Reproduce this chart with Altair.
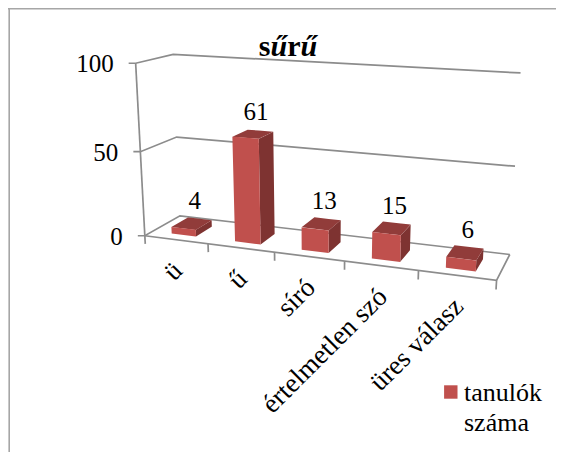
import altair as alt
import numpy as np
import pandas as pd

categories = ["ü", "ű", "síró", "értelmetlen szó", "üres válasz"]
values = [4, 61, 13, 15, 6]
axis_ticks = [0, 50, 100]
legend_lines = ["tanulók", "száma"]
title_letters = ["s", "ű", "r", "ű"]
title_widths = [0.389, 0.556, 0.444, 0.556]

FRONT, SIDE, TOP = "#c0504d", "#7e3331", "#913c3a"
GRID = "#8c8c8c"
FRAME = "#a6a6a6"
FONT = "Liberation Serif"

# perspective camera of the 3D box: (category share, depth, value share) -> picture
anchors = [
    ((0, 0, 0), (145.7, 235.7)), ((0, 0, .5), (139, 152)), ((0, 0, 1), (136, 63.3)),
    ((0, 1, 0), (179.9, 215.7)), ((0, 1, .5), (176.3, 137)), ((0, 1, 1), (173.7, 54.3)),
    ((1, 1, 0), (509.7, 255)), ((1, 1, .5), (515, 166)), ((1, 1, 1), (520.5, 73)),
    ((1, 0, 0), (496.7, 280)),
]
A = []
for (u, d, v), (px, py) in anchors:
    A.append([u, d, v, 1, 0, 0, 0, 0, -px*u, -px*d, -px*v, -px])
    A.append([0, 0, 0, 0, u, d, v, 1, -py*u, -py*d, -py*v, -py])
P = np.linalg.svd(np.array(A))[2][-1].reshape(3, 4)


def proj(u, d, val):
    h = P @ np.array([u, d, val / 100.0, 1.0])
    return float(h[0] / h[2]), float(h[1] / h[2])


def cell(rows, face, pts):
    xs = sorted({round(p[0], 2) for p in pts})
    n = len(pts)
    for x in xs:
        ys = []
        for i in range(n):
            a, b = pts[i], pts[(i + 1) % n]
            lo, hi = min(a[0], b[0]), max(a[0], b[0])
            if lo - 0.01 <= x <= hi + 0.01:
                if abs(b[0] - a[0]) < 0.01:
                    ys += [a[1], b[1]]
                else:
                    ys.append(a[1] + (x - a[0]) / (b[0] - a[0]) * (b[1] - a[1]))
        rows.append(dict(face=face, x=x, y=min(ys), ylow=max(ys)))


HW, D0, D1 = 0.039, 0.22, 0.70
side_rows, top_rows, front_rows = [], [], []
label_rows = []
cat_rows = []
for i, (cat, val) in enumerate(zip(categories, values)):
    c = (i + .5) / 5
    l, r = c - HW, c + HW
    cell(side_rows, f"{i}s", [proj(r, D0, 0), proj(r, D1, 0), proj(r, D1, val), proj(r, D0, val)])
    cell(top_rows, f"{i}t", [proj(l, D0, val), proj(r, D0, val), proj(r, D1, val), proj(l, D1, val)])
    cell(front_rows, f"{i}f", [proj(l, D0, 0), proj(r, D0, 0), proj(r, D0, val), proj(l, D0, val)])
    tx, ty = proj(c + .005, .5, val)
    label_rows.append(dict(x=tx, y=ty - 22, t=str(val)))
    cx, cy = proj(c, 0, 0)
    cat_rows.append(dict(x=cx + 2, y=cy + 27, t=cat))

lines = []
def polyline(name, pts):
    for k, (x, y) in enumerate(pts):
        lines.append(dict(g=name, k=k, x=x, y=y))

tick_rows = []
for t in axis_ticks:
    x, y = proj(0, 0, t)
    polyline(f"g{t}", [(x - 7, y), (x, y), proj(0, 1, t), proj(1, 1, t)])
    tick_rows.append(dict(x=x - 22, y=y + 1, t=str(t)))
polyline("axis", [proj(0, 0, 0), proj(0, 0, 100)])
polyline("floor", [proj(0, 0, 0), proj(1, 0, 0), proj(1, 1, 0)])
for k in range(6):
    polyline(f"t{k}", [proj(k / 5, 0, 0), proj(k / 5, 0, -5)])

X = alt.Scale(domain=[8, 556], range=[0, 548], nice=False, zero=False)
Y = alt.Scale(domain=[452, 8], range=[444, 0], nice=False, zero=False)
xq = lambda f="x": alt.X(f"{f}:Q", scale=X, axis=None)
yq = lambda f="y": alt.Y(f"{f}:Q", scale=Y, axis=None)

frame = pd.DataFrame([
    dict(g="top", k=0, x=8, y=8.7), dict(g="top", k=1, x=556, y=8.7),
    dict(g="left", k=0, x=9.2, y=8), dict(g="left", k=1, x=9.2, y=452),
])
frame_layer = alt.Chart(frame).mark_line(color=FRAME, strokeWidth=1.6).encode(
    x=xq(), y=yq(), detail="g:N", order="k:Q")
grid_layer = alt.Chart(pd.DataFrame(lines)).mark_line(color=GRID, strokeWidth=1.7).encode(
    x=xq(), y=yq(), detail="g:N", order="k:Q")


def face_layer(rows, color):
    return alt.Chart(pd.DataFrame(rows)).mark_area(color=color, opacity=1).encode(
        x=xq(), y=yq(), y2=alt.Y2("ylow"), detail="face:N")


text = dict(font=FONT, fontSize=25, color="#000000")
vals_layer = alt.Chart(pd.DataFrame(label_rows)).mark_text(align="center", baseline="middle", **text).encode(
    x=xq(), y=yq(), text="t:N")
ticks_layer = alt.Chart(pd.DataFrame(tick_rows)).mark_text(align="right", baseline="middle", **text).encode(
    x=xq(), y=yq(), text="t:N")
cats_layer = alt.Chart(pd.DataFrame(cat_rows)).mark_text(align="right", baseline="middle", angle=315, font=FONT, fontSize=27, color="#000000").encode(
    x=xq(), y=yq(), text="t:N")

TSIZE = 30
tx0 = 288 - sum(title_widths) * TSIZE / 2
title_rows = []
for letter, w in zip(title_letters, title_widths):
    title_rows.append(dict(x=tx0, y=47, t=letter))
    tx0 += w * TSIZE
upright = [r for r in title_rows if r["t"] in "sr"]
slanted = [r for r in title_rows if r["t"] == "ű"]
title_up = alt.Chart(pd.DataFrame(upright)).mark_text(
    align="left", baseline="middle", font=FONT, fontSize=TSIZE, fontWeight="bold", color="#000000").encode(
    x=xq(), y=yq(), text="t:N")
title_it = alt.Chart(pd.DataFrame(slanted)).mark_text(
    align="left", baseline="middle", font=FONT, fontSize=TSIZE, fontWeight="bold", fontStyle="italic", color="#000000").encode(
    x=xq(), y=yq(), text="t:N")

legend_text = alt.Chart(pd.DataFrame([dict(x=464, y=393, t=legend_lines[0]), dict(x=464, y=423, t=legend_lines[1])])).mark_text(
    align="left", baseline="middle", font=FONT, fontSize=26, color="#000000").encode(x=xq(), y=yq(), text="t:N")
legend_mark = alt.Chart(pd.DataFrame([dict(x=450.8, y=392)])).mark_square(size=180, color=FRONT, opacity=1).encode(x=xq(), y=yq())

chart = alt.layer(frame_layer, grid_layer, face_layer(side_rows, SIDE), face_layer(top_rows, TOP),
                  face_layer(front_rows, FRONT), vals_layer, ticks_layer, cats_layer,
                  title_up, title_it, legend_mark, legend_text).properties(
    width=548, height=444, padding=0, background="#ffffff",
    autosize=alt.AutoSizeParams(type="none")
).configure_view(stroke=None)

chart.save("out.html", embed_options={"renderer": "svg", "actions": False})
